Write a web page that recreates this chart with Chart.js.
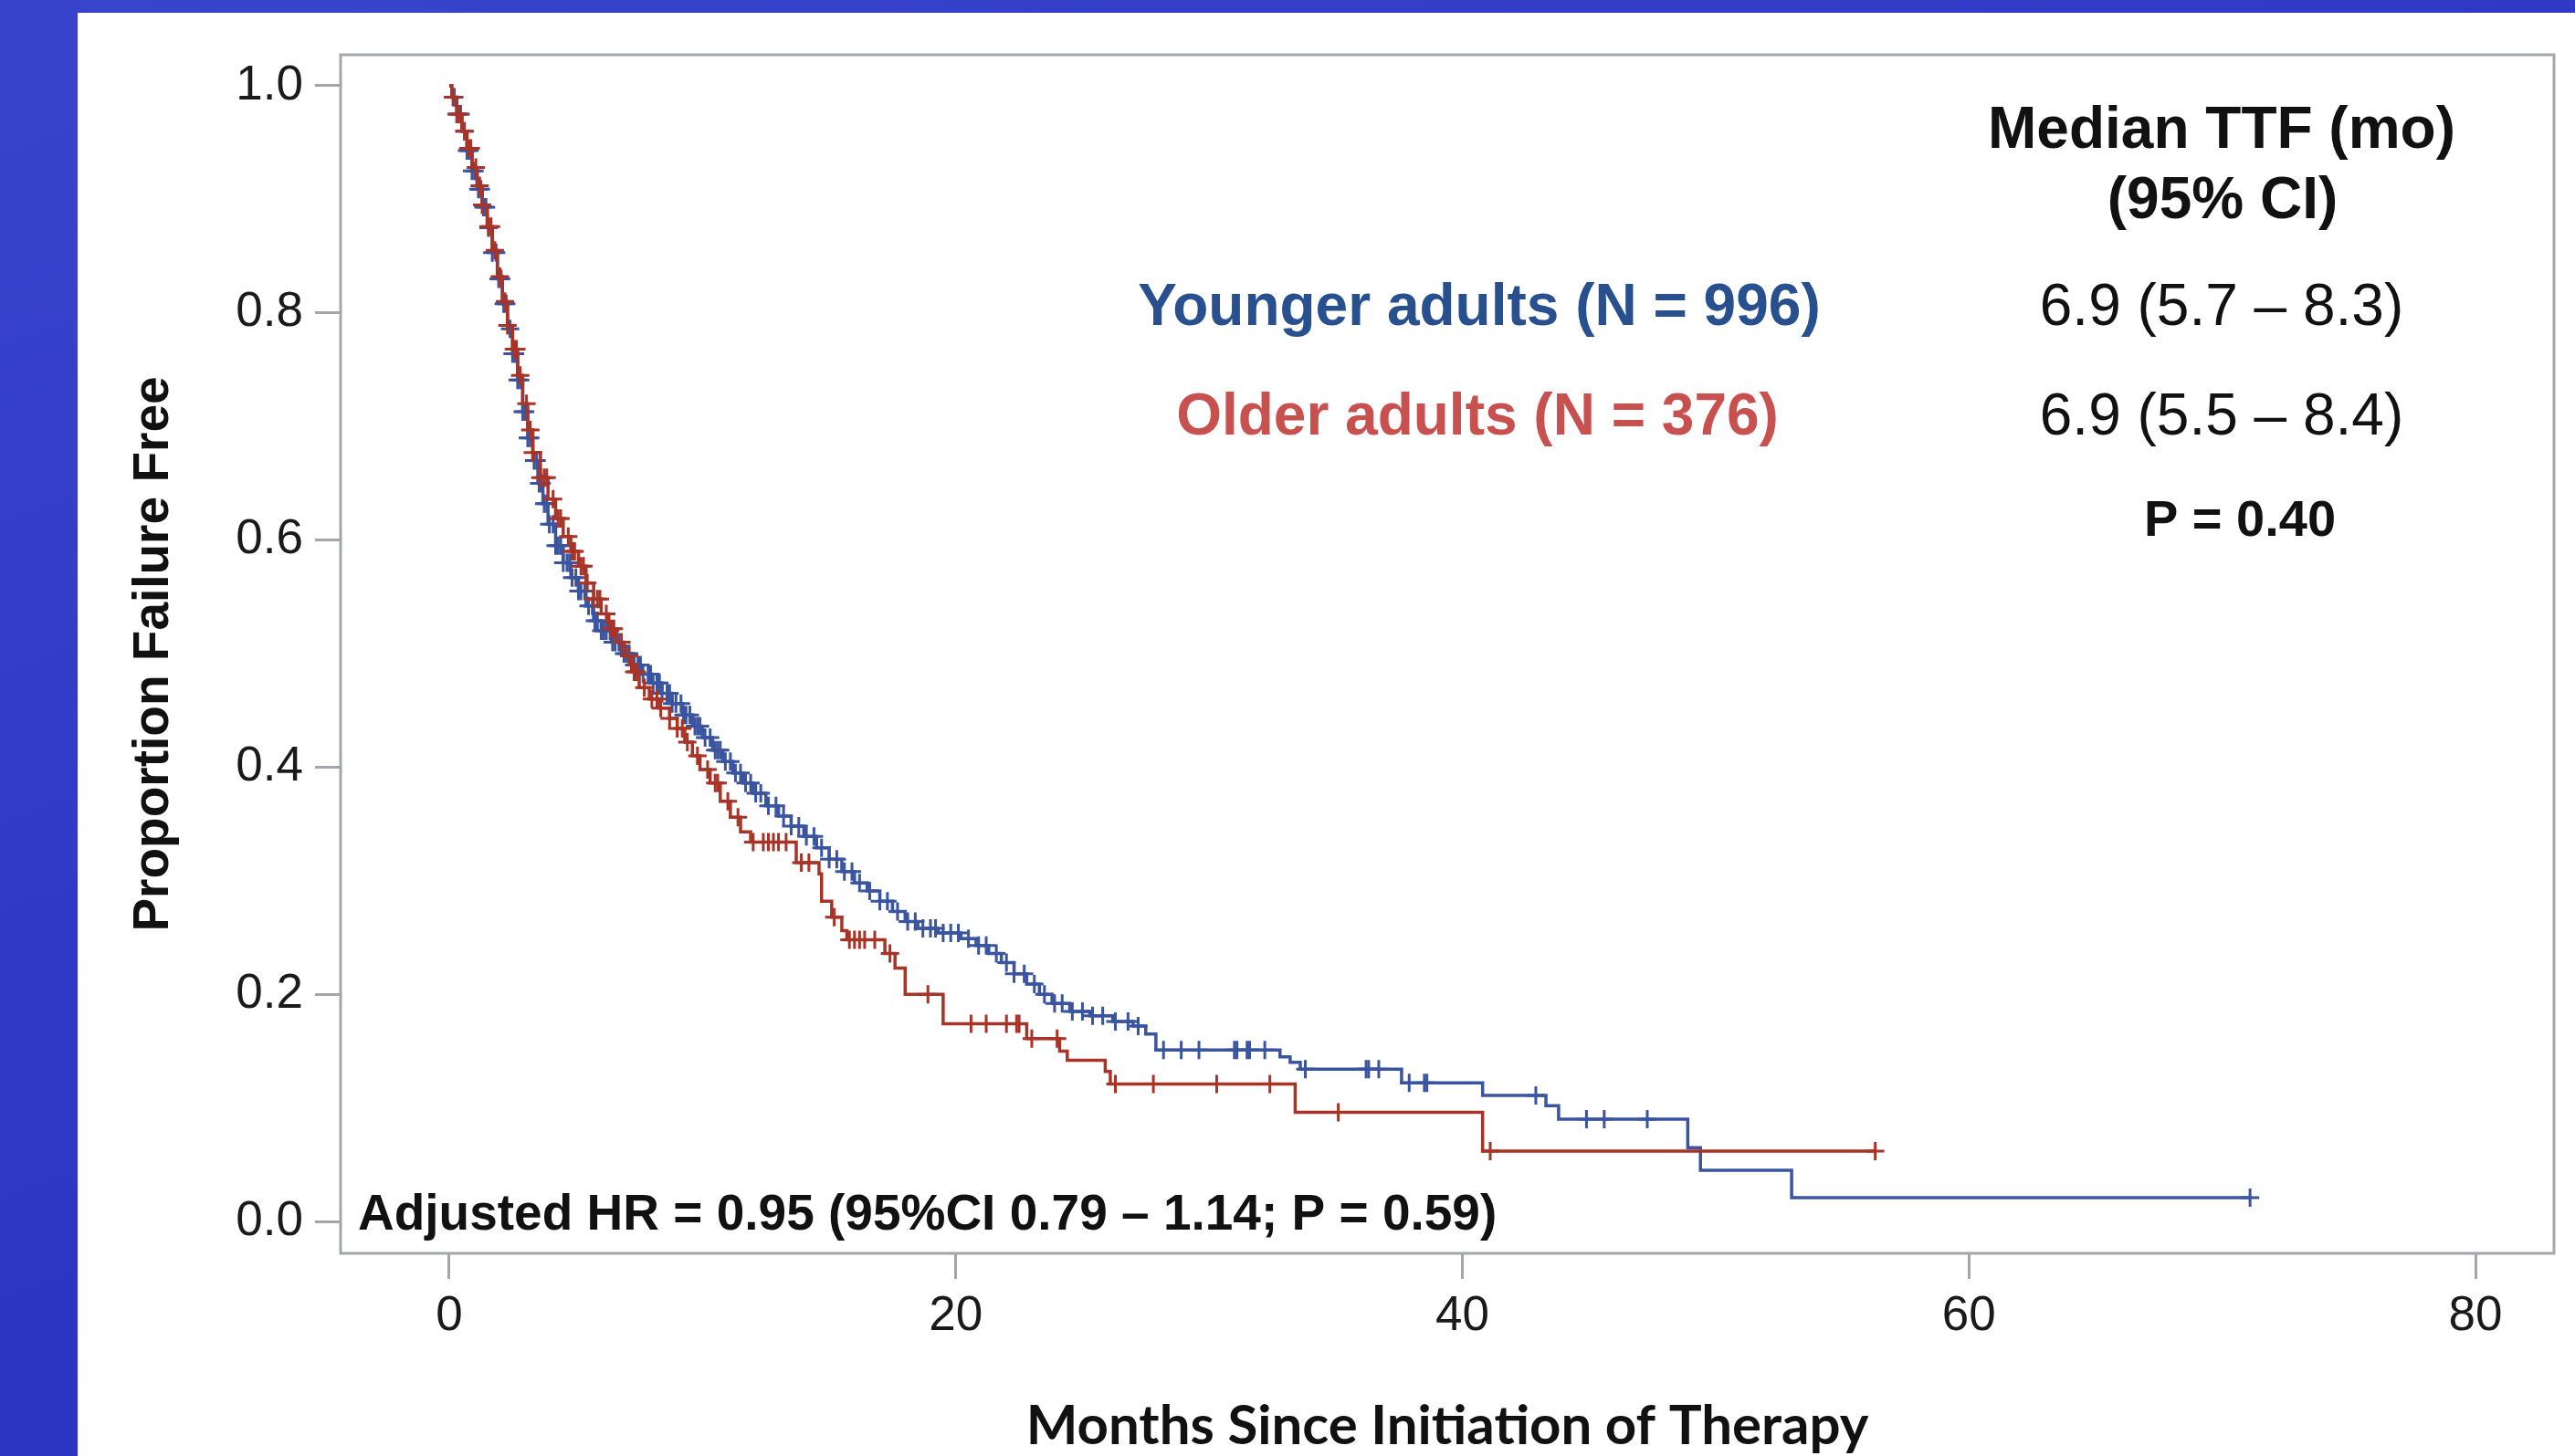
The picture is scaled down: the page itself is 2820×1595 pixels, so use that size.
<!DOCTYPE html>
<html>
<head>
<meta charset="utf-8">
<script src="https://cdn.jsdelivr.net/npm/chart.js@4.4.1/dist/chart.umd.min.js"></script>
<style>
    html, body { margin: 0; padding: 0; }
    body {
        width: 2820px; height: 1595px; overflow: hidden; position: relative;
        background: linear-gradient(160deg, #3944cc 0%, #2d35c3 55%, #2a31c0 100%);
    }
    #ttfChart { position: absolute; left: 85px; top: 14px; background: #ffffff; }
</style>
</head>
<body>
<canvas id="ttfChart" width="2735" height="1581"></canvas>
<script>
// Kaplan-Meier steps: time of event (months) and proportion failure free after it
const youngerTimes = [0, 0.1, 0.3, 0.5, 0.7, 0.9, 1.1, 1.3, 1.5, 1.7, 1.9, 2.1, 2.3, 2.5, 2.7, 2.9, 3.1, 3.3, 3.5, 3.7, 3.9,
    4.2, 4.5, 4.8, 5.1, 5.4, 5.7, 6.0, 6.4, 6.8, 7.2, 7.6, 8.0, 8.4, 8.8, 9.2, 9.6, 10.0, 10.4, 10.8, 11.2, 11.6,
    12.0, 12.5, 13.0, 13.5, 14.0, 14.5, 15.0, 15.5, 16.0, 16.5, 17.0, 17.5, 18.0, 18.5, 19.3, 20.2, 20.8, 21.3,
    21.8, 22.3, 22.8, 23.3, 23.8, 24.5, 25.3, 26.2, 27.0, 27.5, 27.9, 32.8, 33.2, 33.6, 37.6, 40.8, 43.3, 43.8,
    48.9, 49.4, 53.0, 71.1];
const youngerSurv = [1.0, 0.99, 0.975, 0.96, 0.943, 0.925, 0.909, 0.893, 0.875, 0.853, 0.83, 0.808, 0.786, 0.764, 0.741, 0.713, 0.69, 0.67, 0.65, 0.632, 0.614,
    0.595, 0.58, 0.567, 0.555, 0.542, 0.529, 0.52, 0.51, 0.5, 0.49, 0.482, 0.474, 0.465, 0.456, 0.446, 0.436, 0.426, 0.415, 0.405, 0.395, 0.386,
    0.377, 0.366, 0.357, 0.348, 0.339, 0.329, 0.319, 0.308, 0.298, 0.291, 0.282, 0.273, 0.264, 0.258, 0.254, 0.249, 0.243, 0.236,
    0.228, 0.218, 0.209, 0.2, 0.192, 0.185, 0.181, 0.176, 0.172, 0.165, 0.151, 0.145, 0.14, 0.134, 0.122, 0.111, 0.102, 0.09,
    0.065, 0.045, 0.021, 0.021];

const olderTimes = [0, 0.1, 0.3, 0.5, 0.7, 0.9, 1.1, 1.3, 1.5, 1.7, 1.9, 2.1, 2.3, 2.5, 2.7, 2.9, 3.1, 3.3, 3.6, 3.9,
    4.2, 4.5, 4.8, 5.1, 5.4, 5.7, 6.0, 6.3, 6.6, 6.9, 7.2, 7.5, 7.9, 8.3, 8.7, 9.0, 9.3, 9.6, 9.9, 10.3, 10.7,
    11.1, 11.5, 11.9, 13.7, 14.6, 14.7, 15.1, 15.5, 15.7, 17.2, 17.6, 18.0, 19.5, 22.8, 24.1, 24.4, 25.9, 26.1,
    33.4, 40.8, 56.3];
const olderSurv = [1.0, 0.99, 0.975, 0.96, 0.945, 0.928, 0.912, 0.895, 0.876, 0.855, 0.832, 0.81, 0.789, 0.768, 0.745, 0.72, 0.697, 0.677, 0.655, 0.636,
    0.619, 0.603, 0.59, 0.577, 0.562, 0.548, 0.535, 0.522, 0.51, 0.498, 0.484, 0.47, 0.46, 0.452, 0.443, 0.434, 0.422, 0.41, 0.398, 0.386, 0.37,
    0.356, 0.343, 0.334, 0.316, 0.306, 0.282, 0.268, 0.256, 0.248, 0.236, 0.223, 0.2, 0.174, 0.161, 0.15, 0.142, 0.132, 0.121,
    0.096, 0.062, 0.062];

// censored observations (months)
const youngerCensored = [0.2, 0.3, 0.45, 0.6, 0.7, 0.8, 0.9, 1.0, 1.15, 1.25, 1.35, 1.45, 1.55, 1.7, 1.85, 1.95, 2.05, 2.15,
    2.25, 2.4, 2.5, 2.6, 2.7, 2.8, 2.9, 3.0, 3.1, 3.2, 3.35, 3.45, 3.55, 3.65, 3.75, 3.85, 3.95, 4.1, 4.2, 4.3, 4.4, 4.5,
    4.65, 4.75, 4.85, 5.0, 5.1, 5.2, 5.35, 5.5, 5.65, 5.75, 5.85, 6.0, 6.1, 6.2, 6.35, 6.45, 6.55, 6.7, 6.9, 7.0, 7.1,
    7.3, 7.45, 7.55, 7.65, 7.85, 7.95, 8.05, 8.2, 8.3, 8.4, 8.6, 8.7, 8.8, 8.95, 9.15, 9.25, 9.35, 9.5, 9.7, 9.8, 9.9,
    10.1, 10.3, 10.5, 10.6, 10.7, 10.9, 11.1, 11.3, 11.5, 11.7, 11.9, 12.1, 12.3, 12.6, 12.9, 13.2, 13.5, 13.8, 14.1,
    14.4, 14.7, 15.0, 15.3, 15.6, 15.9, 16.2, 16.6, 17.0, 17.3, 17.7, 18.1, 18.4, 18.7, 19.0, 19.2, 19.5, 19.8, 20.1,
    20.5, 20.9, 21.2, 21.6, 22.0, 22.3, 22.7, 23.1, 23.5, 23.9, 24.2, 24.6, 25.0, 25.4, 25.8, 26.3, 26.8, 27.2, 28.2,
    28.9, 29.6, 31.0, 31.1, 31.5, 31.6, 32.2, 33.8, 36.2, 36.3, 36.7, 37.9, 38.5, 38.6, 42.9, 44.9, 45.6, 47.3, 71.1];
const olderCensored = [0.15, 0.3, 0.4, 0.6, 0.75, 0.85, 1.05, 1.2, 1.3, 1.55, 1.65, 1.8, 2.0, 2.2, 2.3, 2.55, 2.65, 2.8, 3.05,
    3.2, 3.3, 3.6, 3.75, 3.85, 4.1, 4.3, 4.4, 4.7, 4.85, 4.95, 5.2, 5.3, 5.45, 5.7, 5.85, 5.95, 6.2, 6.4, 6.5, 6.8, 7.1,
    7.3, 7.4, 7.7, 8.0, 8.2, 8.35, 8.7, 9.0, 9.2, 9.4, 9.8, 10.2, 10.5, 10.6, 11.0, 11.4, 12.0, 12.4, 12.6, 12.8, 13.0,
    13.3, 13.9, 14.2, 15.2, 15.8, 16.0, 16.2, 16.4, 16.8, 17.4, 18.9, 20.6, 21.2, 22.0, 22.4, 22.5, 23.0, 24.0, 26.3,
    27.8, 30.3, 32.4, 35.1, 41.1, 56.3];

const xTicks = [0, 20, 40, 60, 80];
const yTicks = [0, 0.2, 0.4, 0.6, 0.8, 1.0];

const BLUE = '#3a54a0';
const RED = '#a83428';
const SANS = "'Liberation Sans', Arial, sans-serif";

function toPoints(times, surv) {
    return times.map((t, i) => ({ x: t, y: surv[i] }));
}

// value of the step curve at a censoring time
function censorPoints(censored, times, surv) {
    return censored.map(t => {
        let s = surv[0];
        for (let i = 0; i < times.length; i++) {
            if (times[i] <= t) s = surv[i];
        }
        return { x: t, y: s };
    });
}

const annotations = {
    id: 'annotations',
    afterDraw(chart) {
        const ctx = chart.ctx;
        const a = chart.chartArea;
        ctx.save();
        // plot frame
        ctx.strokeStyle = '#a3a7ab';
        ctx.lineWidth = 3;
        ctx.strokeRect(a.left, a.top, a.right - a.left, a.bottom - a.top);

        ctx.textBaseline = 'alphabetic';
        ctx.textAlign = 'center';
        ctx.fillStyle = '#111111';
        ctx.font = 'bold 64px ' + SANS;
        ctx.fillText('Median TTF (mo)', 2348, 148);
        ctx.fillText('(95% CI)', 2349, 225);

        ctx.fillStyle = '#28508f';
        ctx.fillText('Younger adults (N = 996)', 1535, 342);
        ctx.fillStyle = '#c8504e';
        ctx.fillText('Older adults (N = 376)', 1533, 462);

        ctx.fillStyle = '#111111';
        ctx.font = '64px ' + SANS;
        ctx.fillText('6.9 (5.7 \u2013 8.3)', 2348, 342);
        ctx.fillText('6.9 (5.5 \u2013 8.4)', 2348, 462);

        ctx.font = 'bold 56px ' + SANS;
        ctx.fillText('P = 0.40', 2368, 573);

        ctx.textAlign = 'left';
        ctx.font = 'bold 55px ' + SANS;
        ctx.fillText('Adjusted HR = 0.95 (95%CI 0.79 \u2013 1.14; P = 0.59)', 307, 1333);
        ctx.restore();
    }
};

const ttfCanvas = document.getElementById('ttfChart');
if (ttfCanvas) {
    new Chart(ttfCanvas.getContext('2d'), {
        type: 'line',
        data: {
            datasets: [
                {
                    label: 'Older adults censored',
                    data: censorPoints(olderCensored, olderTimes, olderSurv),
                    showLine: false,
                    pointStyle: 'cross',
                    pointRadius: 10,
                    pointBorderWidth: 3,
                    borderColor: RED,
                    order: 1
                },
                {
                    label: 'Older adults',
                    data: toPoints(olderTimes, olderSurv),
                    stepped: true,
                    borderColor: RED,
                    borderWidth: 3.5,
                    pointRadius: 0,
                    fill: false,
                    order: 2
                },
                {
                    label: 'Younger adults censored',
                    data: censorPoints(youngerCensored, youngerTimes, youngerSurv),
                    showLine: false,
                    pointStyle: 'cross',
                    pointRadius: 10,
                    pointBorderWidth: 3,
                    borderColor: BLUE,
                    order: 3
                },
                {
                    label: 'Younger adults',
                    data: toPoints(youngerTimes, youngerSurv),
                    stepped: true,
                    borderColor: BLUE,
                    borderWidth: 3.5,
                    pointRadius: 0,
                    fill: false,
                    order: 4
                }
            ]
        },
        options: {
            responsive: false,
            animation: false,
            devicePixelRatio: 1,
            layout: { padding: { top: 46, right: 23, left: 0, bottom: 0 } },
            plugins: {
                legend: { display: false },
                tooltip: { enabled: false }
            },
            scales: {
                x: {
                    type: 'linear',
                    min: -4.29,
                    max: 83.1,
                    afterFit: function (scale) { scale.height = 222; },
                    afterBuildTicks: function (scale) {
                        scale.ticks = xTicks.map(v => ({ value: v }));
                    },
                    grid: { drawOnChartArea: false, drawTicks: true, tickLength: 28, color: '#a3a7ab', lineWidth: 3 },
                    border: { display: false },
                    ticks: {
                        padding: 10,
                        color: '#1a1a1a',
                        font: { family: SANS, size: 53 },
                        callback: function (value) { return String(value); }
                    },
                    title: {
                        display: true,
                        text: 'Months Since Initiation of Therapy',
                        color: '#111111',
                        font: { family: "Lato, 'Open Sans', sans-serif", size: 60, weight: 'bold', lineHeight: 1.0 },
                        padding: { top: 0, bottom: 2 }
                    }
                },
                y: {
                    min: -0.0281,
                    max: 1.0273,
                    afterFit: function (scale) { scale.width = 288; },
                    afterBuildTicks: function (scale) {
                        scale.ticks = yTicks.map(v => ({ value: v }));
                    },
                    grid: { drawOnChartArea: false, drawTicks: true, tickLength: 28, color: '#a3a7ab', lineWidth: 3 },
                    border: { display: false },
                    ticks: {
                        padding: 13,
                        color: '#1a1a1a',
                        font: { family: SANS, size: 53 },
                        callback: function (value) { return value.toFixed(1); }
                    },
                    title: {
                        display: true,
                        text: 'Proportion Failure Free',
                        color: '#111111',
                        font: { family: SANS, size: 55, weight: 'bold' },
                        padding: { top: 51, bottom: 0 }
                    }
                }
            }
        },
        plugins: [annotations]
    });
} else {
    console.warn('Elemento #ttfChart não encontrado no DOM.');
}
</script>
</body>
</html>
